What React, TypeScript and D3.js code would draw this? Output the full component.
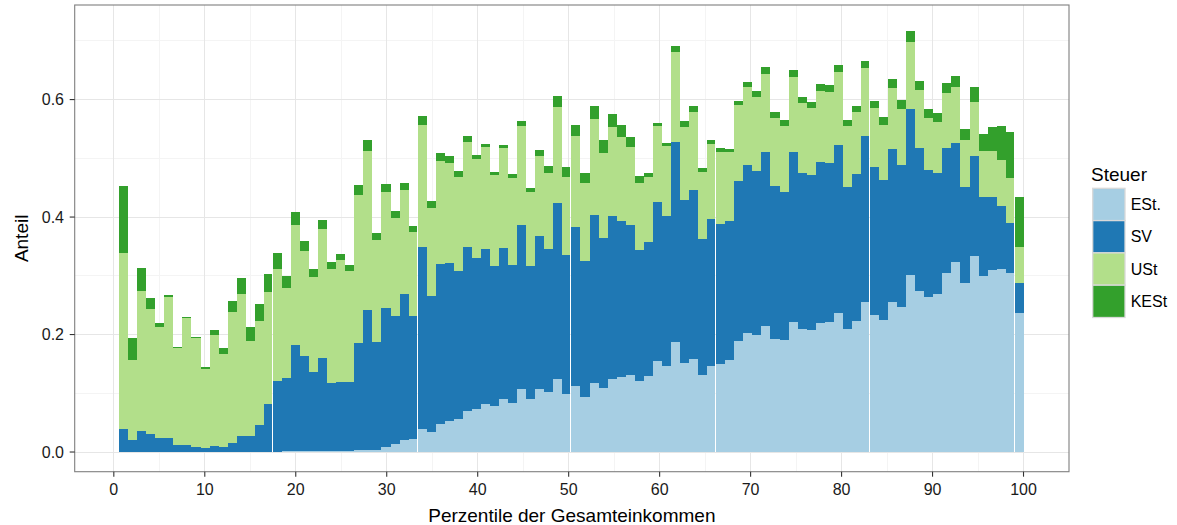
import {useMemo} from "react";
import * as d3 from "d3";

const WIDTH = 1177;
const HEIGHT = 525;
const PANEL = {left: 74.7, right: 1069, top: 5, bottom: 471.7};

const KEYS = ["ESt.", "SV", "USt", "KESt"];
const COLORS = ["#a6cee3", "#1f78b4", "#b2df8a", "#33a02c"];

// shares per income percentile 1..100
const est = [
    0, 0, 0, 0, 0, 0, 0, 0, 0, 0,
    0, 0, 0, 0, 0, 0, 0, 0, .002, .002,
    .001, .001, .001, .002, .002, .002, .003, .004, .004, .009,
    .014, .020, .022, .039, .034, .048, .053, .056, .070, .073,
    .082, .078, .090, .083, .107, .090, .107, .102, .124, .099,
    .112, .094, .117, .109, .124, .128, .131, .121, .129, .155,
    .146, .187, .152, .158, .131, .146, .150, .157, .189, .203,
    .199, .215, .192, .191, .221, .209, .208, .220, .221, .237,
    .209, .223, .255, .233, .225, .255, .247, .301, .274, .264,
    .269, .305, .323, .288, .334, .300, .310, .312, .305, .237,
];
const sv = [
    .039, .020, .036, .031, .024, .024, .012, .012, .009, .007,
    .010, .009, .015, .027, .027, .046, .082, .121, .124, .180,
    .162, .135, .159, .115, .117, .117, .183, .238, .183, .236,
    .218, .249, .210, .310, .232, .272, .269, .252, .279, .257,
    .264, .239, .257, .235, .279, .227, .261, .244, .300, .236,
    .271, .231, .286, .255, .278, .265, .255, .223, .228, .271,
    .256, .341, .277, .288, .232, .251, .238, .236, .272, .286,
    .279, .296, .261, .252, .290, .266, .264, .274, .271, .286,
    .242, .250, .283, .252, .238, .261, .242, .283, .243, .216,
    .206, .212, .203, .163, .170, .134, .124, .107, .085, .051,
];
const ust = [
    .300, .137, .238, .212, .189, .240, .165, .216, .185, .134,
    .189, .158, .223, .242, .162, .177, .190, .191, .153, .204,
    .179, .162, .220, .195, .208, .189, .251, .270, .174, .198,
    .166, .177, .143, .208, .149, .175, .170, .160, .179, .169,
    .173, .155, .170, .148, .169, .126, .136, .129, .163, .133,
    .155, .133, .164, .145, .151, .143, .133, .114, .111, .129,
    .119, .153, .124, .133, .114, .127, .123, .118, .130, .132,
    .126, .132, .116, .112, .127, .119, .114, .121, .121, .124,
    .104, .106, .116, .101, .094, .104, .095, .114, .099, .089,
    .087, .094, .095, .080, .092, .078, .078, .078, .076, .061,
];
const kest = [
    .114, .037, .039, .019, .007, .003, .002, .002, .002, .004,
    .009, .010, .019, .027, .024, .029, .031, .027, .021, .023,
    .017, .014, .015, .011, .010, .010, .018, .019, .012, .013,
    .012, .012, .010, .015, .012, .014, .012, .010, .010, .007,
    .005, .005, .006, .007, .008, .006, .010, .012, .019, .017,
    .019, .017, .022, .022, .022, .021, .017, .012, .007, .005,
    .005, .010, .010, .010, .006, .007, .006, .005, .006, .009,
    .011, .012, .010, .010, .012, .010, .010, .011, .012, .012,
    .010, .010, .012, .011, .013, .015, .015, .019, .016, .015,
    .015, .017, .019, .019, .025, .029, .041, .058, .079, .085,
];

const X_TICKS = d3.range(0, 101, 10);
const Y_TICKS = [0, 0.2, 0.4, 0.6];
// bars followed by a thin white seam in the original
const SEAM_AFTER = [17, 33, 50, 66, 83, 99];

export default function App() {
    const rows = useMemo(() => est.map((_, i) => ({
        p: i + 1,
        "ESt.": est[i],
        SV: sv[i],
        USt: ust[i],
        KESt: kest[i],
    })), []);

    const series = d3.stack<any>().keys(KEYS)(rows);

    const x = d3.scaleLinear().domain([-4.3, 105.0]).range([PANEL.left, PANEL.right]);
    const y = d3.scaleLinear().domain([-0.0335, 0.761]).range([PANEL.bottom, PANEL.top]);
    const xBand = d3.scaleBand<number>()
        .domain(rows.map((d) => d.p))
        .range([x(0.58), x(100.03)])
        .padding(0);
    const color = d3.scaleOrdinal<string, string>().domain(KEYS).range(COLORS);

    const xMinor = d3.range(5, 101, 10);
    const yMinor = [0.1, 0.3, 0.5, 0.7];

    const font = "'Liberation Sans', Arial, Helvetica, sans-serif";

    return (
        <svg width={WIDTH} height={HEIGHT} style={{position: "absolute", left: 0, top: 0}} fontFamily={font}>
            <rect x={0} y={0} width={WIDTH} height={HEIGHT} fill="white"/>

            {/* grid */}
            <g shapeRendering="crispEdges">
                {xMinor.map((v) => (
                    <line key={"xm" + v} x1={x(v)} x2={x(v)} y1={PANEL.top} y2={PANEL.bottom} stroke="#f4f4f4"/>
                ))}
                {yMinor.map((v) => (
                    <line key={"ym" + v} x1={PANEL.left} x2={PANEL.right} y1={y(v)} y2={y(v)} stroke="#f4f4f4"/>
                ))}
                {X_TICKS.map((v) => (
                    <line key={"xg" + v} x1={x(v)} x2={x(v)} y1={PANEL.top} y2={PANEL.bottom} stroke="#e6e6e6"/>
                ))}
                {Y_TICKS.map((v) => (
                    <line key={"yg" + v} x1={PANEL.left} x2={PANEL.right} y1={y(v)} y2={y(v)} stroke="#e6e6e6"/>
                ))}
            </g>

            {/* bars */}
            <g shapeRendering="crispEdges">
                {series.map((s) => (
                    <g key={s.key} fill={color(s.key)}>
                        {s.map((d, i) => {
                            const p = rows[i].p;
                            const x0 = Math.round(xBand(p)!);
                            const x1 = Math.round(xBand(p)! + xBand.bandwidth()) - (SEAM_AFTER.includes(p) ? 1 : 0);
                            return (
                                <rect
                                    key={p}
                                    x={x0}
                                    y={y(d[1])}
                                    width={x1 - x0}
                                    height={Math.max(0, y(d[0]) - y(d[1]))}
                                />
                            );
                        })}
                    </g>
                ))}
            </g>

            {/* panel border */}
            <rect x={PANEL.left} y={PANEL.top} width={PANEL.right - PANEL.left} height={PANEL.bottom - PANEL.top}
                  fill="none" stroke="#7f7f7f" strokeWidth={1.1}/>

            {/* x axis */}
            <g>
                {X_TICKS.map((v) => (
                    <g key={v} transform={`translate(${x(v)},0)`}>
                        <line y1={PANEL.bottom} y2={PANEL.bottom + 5} stroke="#333" strokeWidth={1.1}/>
                        <text y={495} textAnchor="middle" fontSize={16} fill="#1a1a1a">{v}</text>
                    </g>
                ))}
            </g>

            {/* y axis */}
            <g>
                {Y_TICKS.map((v) => (
                    <g key={v} transform={`translate(0,${y(v)})`}>
                        <line x1={PANEL.left - 5} x2={PANEL.left} stroke="#333" strokeWidth={1.1}/>
                        <text x={64} dy="0.35em" textAnchor="end" fontSize={16} fill="#1a1a1a">{d3.format(".1f")(v)}</text>
                    </g>
                ))}
            </g>

            <text x={(PANEL.left + PANEL.right) / 2} y={522} textAnchor="middle" fontSize={19} fill="black">
                Perzentile der Gesamteinkommen
            </text>
            <text transform={`translate(28,${(PANEL.top + PANEL.bottom) / 2}) rotate(-90)`} textAnchor="middle"
                  fontSize={19} fill="black">
                Anteil
            </text>

            {/* legend */}
            <g transform="translate(1091,0)">
                <text x={0} y={181} fontSize={19} fill="black">Steuer</text>
                {KEYS.map((k, i) => (
                    <g key={k} transform={`translate(1.7,${188.3 + i * 32.3})`}>
                        <rect width={32.3} height={32.3} fill={color(k)} stroke="#d9d9d9" strokeWidth={1.3}/>
                        <text x={38} y={16.2} dy="0.35em" fontSize={16} fill="black">{k}</text>
                    </g>
                ))}
            </g>
        </svg>
    );
}
